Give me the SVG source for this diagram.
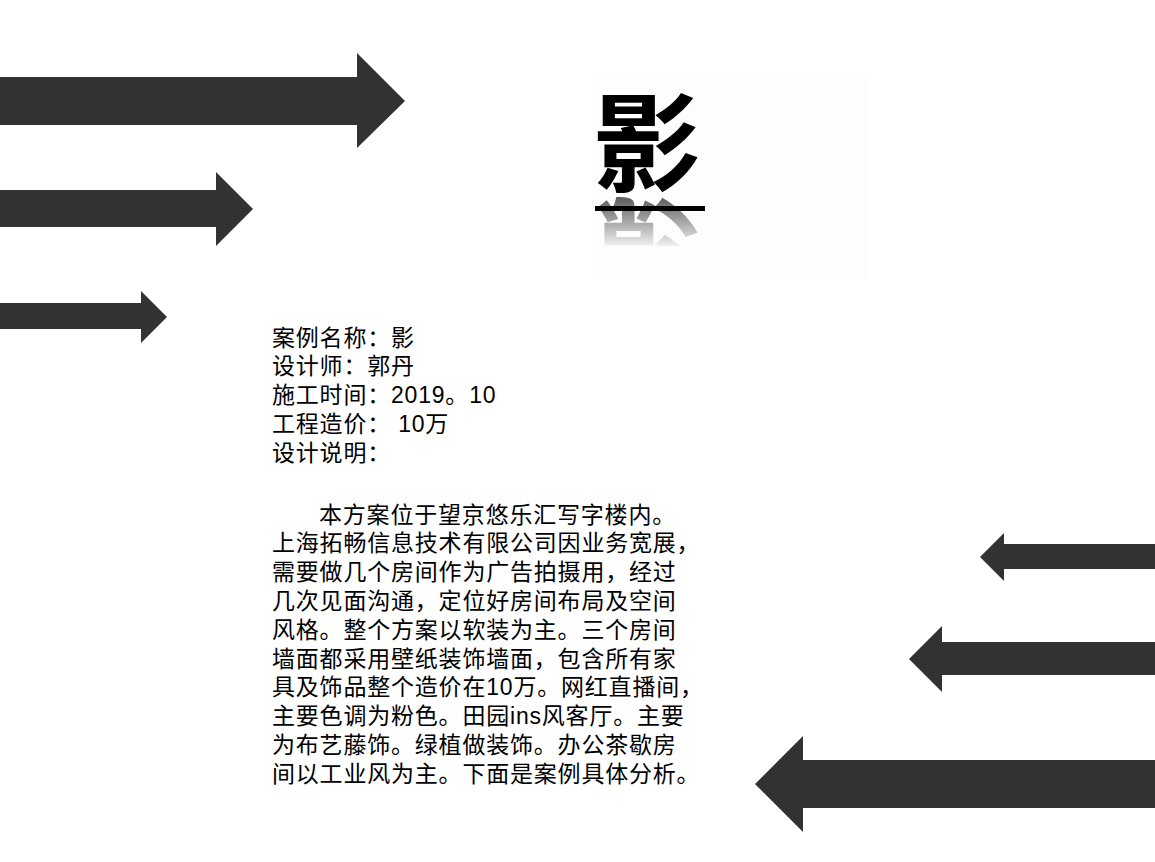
<svg xmlns="http://www.w3.org/2000/svg" width="1155" height="862" viewBox="0 0 1155 862">
<style>
.arrow{fill:#323230}
.t{font-family:"Liberation Sans","Noto Sans CJK SC",sans-serif;font-size:23px;letter-spacing:0.8px;fill:#000}
.title{font-family:"Noto Sans CJK SC","Liberation Sans",sans-serif;font-size:108px;font-weight:bold;fill:#000}
</style>
<defs>
<linearGradient id="fade" x1="0" y1="196" x2="0" y2="246" gradientUnits="userSpaceOnUse">
<stop offset="0" stop-color="#fff" stop-opacity="0.65"/>
<stop offset="1" stop-color="#fff" stop-opacity="0.05"/>
</linearGradient>
<mask id="refl" maskUnits="userSpaceOnUse" x="0" y="0" width="1155" height="862">
<rect x="580" y="196" width="140" height="50" fill="url(#fade)"/>
</mask>
</defs>
<rect width="1155" height="862" fill="#fff"/>
<rect x="592" y="75" width="278" height="205" fill="#fdfdfd"/>
<g id="arrows">
<polygon id="arrow-l1" class="arrow" points="0,77 357,77 357,53 405,101 357,148 357,125 0,125"/>
<polygon id="arrow-l2" class="arrow" points="0,190 216,190 216,172 253,209 216,246 216,227 0,227"/>
<polygon id="arrow-l3" class="arrow" points="0,303 141,303 141,291 167,317 141,343 141,329 0,329"/>
<polygon id="arrow-r1" class="arrow" points="1155,544 1004,544 1004,533 980,557 1004,581 1004,569 1155,569"/>
<polygon id="arrow-r2" class="arrow" points="1155,642 942,642 942,626 909,659 942,692 942,675 1155,675"/>
<polygon id="arrow-r3" class="arrow" points="1155,760 803,760 803,736 755,784 803,832 803,808 1155,808"/>
</g>
<g id="title">
<text class="title" x="647" y="183" text-anchor="middle">影</text>
<g mask="url(#refl)">
<text class="title" x="647" y="183" text-anchor="middle" transform="translate(0,390) scale(1,-1)">影</text>
</g>
<rect x="595" y="206" width="110" height="5" fill="#000"/>
</g>
<g id="info" class="t">
<text x="272" y="345.5">案例名称：影</text>
<text x="272" y="374.3">设计师：郭丹</text>
<text x="272" y="403">施工时间：2019。10</text>
<text x="272" y="431.8">工程造价： 10万</text>
<text x="272" y="460.6">设计说明：</text>
</g>
<g id="description" class="t">
<text x="319" y="522.5">本方案位于望京悠乐汇写字楼内。</text>
<text x="272" y="551.3">上海拓畅信息技术有限公司因业务宽展，</text>
<text x="272" y="580.1">需要做几个房间作为广告拍摄用，经过</text>
<text x="272" y="608.9">几次见面沟通，定位好房间布局及空间</text>
<text x="272" y="637.7">风格。整个方案以软装为主。三个房间</text>
<text x="272" y="666.5">墙面都采用壁纸装饰墙面，包含所有家</text>
<text x="272" y="695.3">具及饰品整个造价在10万。网红直播间，</text>
<text x="272" y="724.1">主要色调为粉色。田园ins风客厅。主要</text>
<text x="272" y="752.9">为布艺藤饰。绿植做装饰。办公茶歇房</text>
<text x="272" y="781.7">间以工业风为主。下面是案例具体分析。</text>
</g>
</svg>
